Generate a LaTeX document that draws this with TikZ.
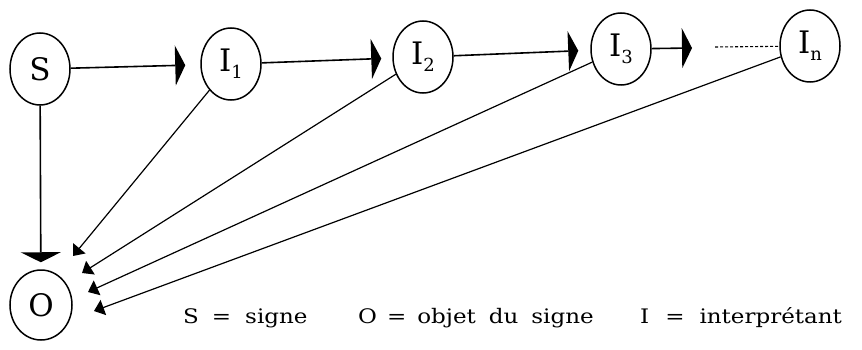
\documentclass[tikz,border=0pt]{standalone}
\usepackage{fontspec}
\setmainfont{DejaVu Serif}
\newfontfamily\legendfont[FakeStretch=1.15]{DejaVu Serif}
\usetikzlibrary{shapes.geometric,arrows.meta}
\newcommand\mysub[1]{\raisebox{-7pt}{\fontsize{18}{18}\selectfont #1}}
\begin{document}
\begin{tikzpicture}[x=1pt,y=-1pt,
  stage/.style={ellipse, draw, line width=1.5pt, minimum width=60pt, minimum height=72pt, inner sep=0pt, font=\fontsize{31}{31}\selectfont},
  conn/.style={line width=1.6pt, -{Triangle[length=10pt,width=40pt]}},
  diag/.style={line width=1.2pt, -{Triangle[length=10pt,width=16pt]}},
  dots/.style={line width=1.1pt, dash pattern=on 3pt off 2pt},
  legend/.style={anchor=base west, inner sep=0pt, font=\legendfont\fontsize{20}{20}\selectfont}]
\useasboundingbox (0,0) rectangle (862,350);
\node[stage] (S) at (40,69) {S};
\node[stage] (I1) at (231,64) {I\mysub{1}};
\node[stage] (I2) at (423,57) {I\mysub{2}};
\node[stage] (I3) at (621,49) {I\mysub{3}};
\node[stage] (In) at (810,46) {I\mysub{n}};
\node[stage, minimum width=62pt, minimum height=70pt] (O) at (41,305) {O};
\coordinate (h3) at (692,48);
\coordinate (d0) at (715,47);
\coordinate (o1) at (73,256);
\coordinate (o2) at (82,273);
\coordinate (o3) at (88,292);
\coordinate (o4) at (94,311);
\draw[conn, shorten >=15pt] (S) -- (I1);
\draw[conn, shorten >=11pt] (I1) -- (I2);
\draw[conn, shorten >=12pt] (I2) -- (I3);
\draw[conn] (I3) -- (h3);
\draw[dots] (d0) -- (In);
\draw[conn, shorten >=7pt] (S) -- (O);
\draw[diag] (I1) -- (o1);
\draw[diag] (I2) -- (o2);
\draw[diag] (I3) -- (o3);
\draw[diag] (In) -- (o4);
\node[legend] (L1) at (183,323) {S\hspace{13pt}=\hspace{14pt}signe};
\node[legend] (L2) at (358,323) {O\hspace{10pt}=\hspace{11pt}objet\hspace{13pt}du\hspace{13pt}signe};
\node[legend] (L3) at (640,323) {I\hspace{16pt}=\hspace{15pt}interprétant};
\end{tikzpicture}
\end{document}
